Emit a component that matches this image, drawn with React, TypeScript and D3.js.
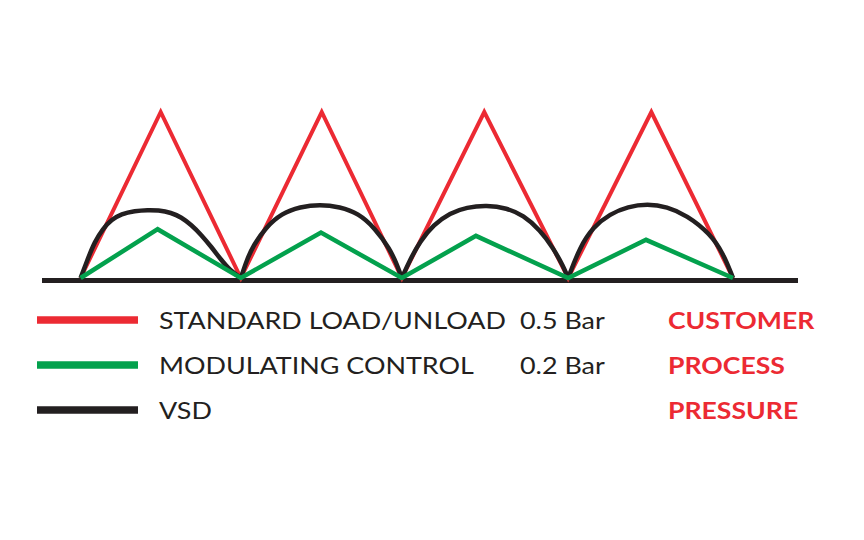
import * as d3 from 'd3'
import React, { useEffect, useRef } from 'react'

// time units along the cycle, pressure in bar
const standardSeries: [number, number][] = [
  [5.1, 0], [15.7, 0.5], [26.3, 0], [37.0, 0.5], [47.6, 0],
  [58.5, 0.5], [69.6, 0], [80.6, 0.5], [91.4, 0],
]
const modulatingSeries: [number, number][] = [
  [5.1, 0], [15.3, 0.147], [26.3, 0], [36.9, 0.137], [47.6, 0],
  [57.4, 0.127], [69.6, 0], [79.9, 0.115], [91.4, 0],
]
// one array per compressor cycle, the curve restarts at every valley
const vsdCycles: [number, number][][] = [
  [
    [5.1, 0], [6.08, 0.059], [6.97, 0.109], [8.07, 0.149], [9.17, 0.175], [10.49, 0.193], [12.26, 0.202],
    [14.02, 0.205], [15.34, 0.204], [17.1, 0.197], [18.43, 0.183], [19.75, 0.16], [21.07, 0.13],
    [22.39, 0.094], [23.72, 0.054], [24.83, 0.024], [26.3, 0],
  ],
  [
    [26.3, 0], [27.1, 0.055], [27.94, 0.097], [29.5, 0.15], [31.71, 0.195], [34.13, 0.214], [36.77, 0.222],
    [39.4, 0.214], [41.84, 0.195], [44.05, 0.15], [46.03, 0.087], [46.96, 0.04], [47.6, 0],
  ],
  [
    [47.6, 0], [48.68, 0.055], [50.0, 0.11], [51.76, 0.16], [53.97, 0.196], [56.18, 0.213], [58.82, 0.219],
    [61.47, 0.211], [63.66, 0.189], [65.87, 0.145], [67.63, 0.09], [68.96, 0.035], [69.6, 0],
  ],
  [
    [69.6, 0], [71.16, 0.094], [72.92, 0.154], [75.13, 0.193], [77.51, 0.215], [80.07, 0.223], [82.67, 0.215],
    [85.28, 0.189], [88.36, 0.134], [90.12, 0.074], [91.4, 0],
  ],
]

const legendLabels = ['STANDARD LOAD/UNLOAD', 'MODULATING CONTROL', 'VSD']
const legendBands = ['0.5 Bar', '0.2 Bar', '']
const pressureWords = ['CUSTOMER', 'PROCESS', 'PRESSURE']

const colors = { red: '#ec2a33', green: '#03a14d', black: '#231f20' }
const legendColors = [colors.red, colors.green, colors.black]

const width = 864
const height = 540
const stretch = 1.17
const boldStretch = 1.21

const App: React.FC = () => {
  const ref = useRef<SVGSVGElement>(null)

  useEffect(() => {
    const svg = d3.select(ref.current)
    svg.selectAll('*').remove()

    const x = d3.scaleLinear().domain([0, 100]).range([42, 798])
    const y = d3.scaleLinear().domain([0, 0.5]).range([278, 112])

    const straight = d3
      .line<[number, number]>()
      .x((d) => x(d[0]))
      .y((d) => y(d[1]))
    const smooth = d3
      .line<[number, number]>()
      .x((d) => x(d[0]))
      .y((d) => y(d[1]))
      .curve(d3.curveBasis)

    // baseline
    svg
      .append('line')
      .attr('x1', x(0))
      .attr('x2', x(100))
      .attr('y1', y(0) + 2.5)
      .attr('y2', y(0) + 2.5)
      .attr('stroke', colors.black)
      .attr('stroke-width', 5)

    svg
      .append('path')
      .attr('d', straight(standardSeries))
      .attr('fill', 'none')
      .attr('stroke', colors.red)
      .attr('stroke-width', 4)

    svg
      .selectAll('.vsd')
      .data(vsdCycles)
      .enter()
      .append('path')
      .attr('class', 'vsd')
      .attr('d', (d) => smooth(d))
      .attr('fill', 'none')
      .attr('stroke', colors.black)
      .attr('stroke-width', 4.5)

    svg
      .append('path')
      .attr('d', straight(modulatingSeries))
      .attr('fill', 'none')
      .attr('stroke', colors.green)
      .attr('stroke-width', 4.5)

    // legend
    const rows = legendLabels.map((label, i) => ({ label, band: legendBands[i], word: pressureWords[i], color: legendColors[i] }))
    const rowY = d3.scalePoint<number>().domain([0, 1, 2]).range([320, 410])

    const g = svg
      .selectAll('.legend')
      .data(rows)
      .enter()
      .append('g')
      .attr('class', 'legend')
      .attr('transform', (d, i) => `translate(0,${rowY(i)})`)

    g.append('line')
      .attr('x1', 37)
      .attr('x2', 138)
      .attr('stroke', (d) => d.color)
      .attr('stroke-width', 7.5)

    g.append('text')
      .attr('transform', `translate(159,9) scale(${stretch},1)`)
      .attr('font-family', 'Lato, sans-serif')
      .attr('font-weight', 400)
      .attr('font-size', 23)
      .attr('fill', colors.black)
      .text((d) => d.label)

    g.append('text')
      .attr('transform', `translate(520,9) scale(${stretch},1)`)
      .attr('font-family', 'Lato, sans-serif')
      .attr('font-weight', 400)
      .attr('font-size', 23)
      .attr('fill', colors.black)
      .text((d) => d.band)

    g.append('text')
      .attr('transform', `translate(668,9) scale(${boldStretch},1)`)
      .attr('font-family', 'Lato, sans-serif')
      .attr('font-weight', 700)
      .attr('font-size', 22)
      .attr('fill', colors.red)
      .text((d) => d.word)
  }, [])

  return <svg ref={ref} width={width} height={height} style={{ position: 'absolute', left: 0, top: 0, background: '#fff' }} />
}

export default App
